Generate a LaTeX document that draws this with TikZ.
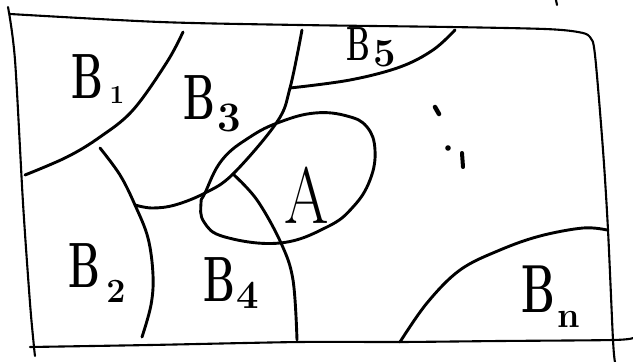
\documentclass[tikz,border=0pt]{standalone}
\usepackage{graphicx}
\newcommand{\hB}{\scalebox{0.62}[1]{B}}
\begin{document}
\begin{tikzpicture}[x=1pt,y=-1pt,line cap=round,line join=round,
  frame/.style={line width=2.1pt},
  stroke/.style={line width=2.9pt},
  lbl/.style={inner sep=0pt,font=\fontsize{64}{64}\selectfont\bfseries},
  subl/.style={inner sep=0pt}]
\useasboundingbox (0,0) rectangle (633,362);
% frame
\draw[frame] plot[smooth,tension=0.5] coordinates {(8,7) (15,60) (23,203) (30,303) (34,347) (35,356)};
\draw[frame] plot[smooth,tension=0.5] coordinates {(10,14) (160,22) (300,25) (450,27) (545,29) (578,32) (590,37) (595,55) (603,150) (608,230) (613,340) (615,362)};
\draw[frame] plot[smooth,tension=0.5] coordinates {(30,347) (150,345) (300,342) (400,342) (500,341) (613,340) (633,338)};
\draw[frame] (556,0) -- (557,5);
% junctions
\coordinate (j1) at (135,205);
\coordinate (j2) at (233,174);
\coordinate (j3) at (290,88);
% B1 boundary
\draw[stroke] plot[smooth,tension=0.6] coordinates {(183,32) (167,62) (133,110) (100,137) (67,157) (25,175)};
% B2 boundary
\draw[stroke] plot[smooth,tension=0.6] coordinates {(100,148) (120,175) (j1) (148,238) (153,275) (151,305) (142,337)};
% B3 lower / right boundary
\draw[stroke] plot[smooth,tension=0.6] coordinates {(j1) (152,208) (175,205) (205,193) (j2) (277,122) (j3) (302,30)};
% B5 boundary
\draw[stroke] plot[smooth,tension=0.6] coordinates {(j3) (350,80) (400,67) (433,50) (455,30)};
% B4 boundary
\draw[stroke] plot[smooth,tension=0.6] coordinates {(j2) (257,200) (281,243) (293,280) (297,340)};
% Bn boundary
\draw[stroke] plot[smooth,tension=0.6] coordinates {(400,342) (427,303) (460,270) (500,250) (540,236) (583,228) (607,230)};
% ellipse A
\draw[stroke] plot[smooth cycle,tension=0.7] coordinates {(205,193) (222,160) (250,137) (280,122) (315,113) (347,116) (367,127) (375,150) (370,180) (353,207) (327,227) (280,243) (225,237) (204,222) (201,203)};
% dots
\draw[line width=4.5pt] (435,107) -- (439,114);
\fill (448,148) circle (2.8);
\draw[line width=4pt] (462,153) -- (463,167);
% labels
\node[lbl] (b1) at (87,77) {\hB};
\node[subl,font=\fontsize{26}{26}\selectfont\bfseries] (s1) at (117,95) {1};
\node[lbl] (b3) at (199,98) {\hB};
\node[subl,font=\fontsize{42}{42}\selectfont\bfseries] (s3) at (229,118) {3};
\node[lbl,font=\fontsize{48}{48}\selectfont\bfseries] (b5) at (358,44) {\hB};
\node[subl,font=\fontsize{40}{40}\selectfont\bfseries] (s5) at (385,54) {5};
\node[lbl] (b2) at (84,266) {\hB};
\node[subl,font=\fontsize{34}{34}\selectfont\bfseries] (s2) at (116,291) {2};
\node[lbl] (b4) at (219,280) {\hB};
\node[subl,font=\fontsize{40}{40}\selectfont\bfseries] (s4) at (248,295) {4};
\node[lbl,font=\fontsize{68}{68}\selectfont\bfseries] (bn) at (538,289) {\hB};
\node[subl,font=\fontsize{36}{36}\selectfont\bfseries] (sn) at (569,319) {n};
\node[lbl,font=\fontsize{80}{80}\selectfont] (a) at (307,195) {\scalebox{0.8}[1]{A}};
\end{tikzpicture}
\end{document}
